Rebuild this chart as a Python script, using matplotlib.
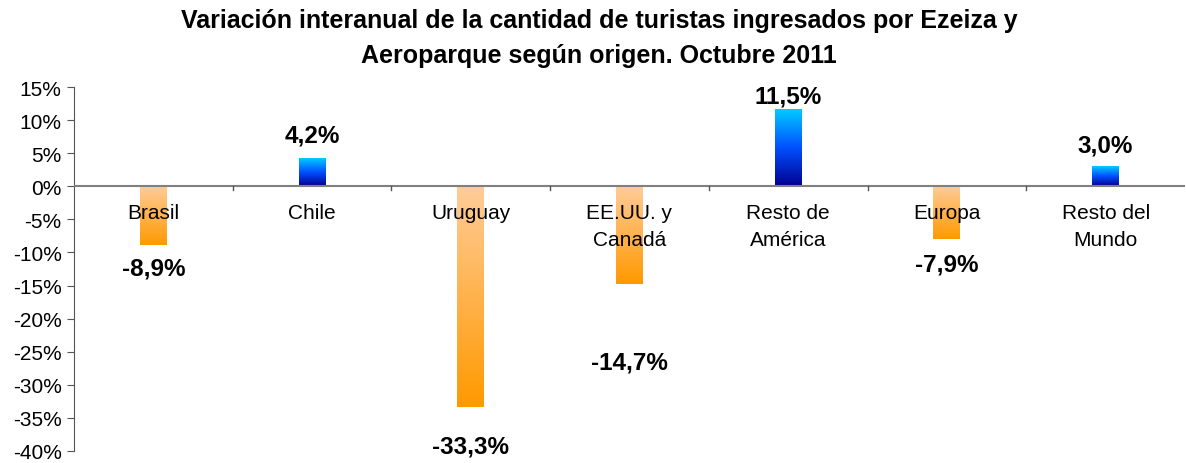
import numpy as np
import matplotlib
matplotlib.use("Agg")
import matplotlib.pyplot as plt
from matplotlib.colors import LinearSegmentedColormap

plt.rcParams['font.family'] = ['Liberation Sans', 'DejaVu Sans']

categories = ["Brasil", "Chile", "Uruguay", "EE.UU. y\nCanadá", "Resto de\nAmérica", "Europa", "Resto del\nMundo"]
values = [-8.9, 4.2, -33.3, -14.7, 11.5, -7.9, 3.0]
value_labels = ["-8,9%", "4,2%", "-33,3%", "-14,7%", "11,5%", "-7,9%", "3,0%"]
label_y = [-12.4, 7.8, -39.2, -26.5, 13.6, -11.8, 6.3]
yticks = [15, 10, 5, 0, -5, -10, -15, -20, -25, -30, -35, -40]

title = "Variación interanual de la cantidad de turistas ingresados por Ezeiza y\nAeroparque según origen. Octubre 2011"

fig = plt.figure(figsize=(11.86, 4.64), dpi=100)
ax = fig.add_axes([74/1186, 1 - 452/464, (1185-74)/1186, (452-88)/464])

x = np.arange(len(categories)) + 0.5
width = 0.17

blue = LinearSegmentedColormap.from_list("b", ["#000090", "#0050FF", "#00CCFF"])
orange = LinearSegmentedColormap.from_list("o", ["#FF9900", "#FFCC99"])

bars = ax.bar(x, values, width=width, color="none", edgecolor="none", zorder=2)
grad = np.linspace(0, 1, 256).reshape(-1, 1)
for b, v in zip(bars, values):
    x0 = b.get_x()
    x1 = x0 + b.get_width()
    if v >= 0:
        ax.imshow(grad, cmap=blue, aspect="auto", origin="lower",
                  extent=[x0, x1, 0, v], zorder=2)
    else:
        ax.imshow(grad, cmap=orange, aspect="auto", origin="lower",
                  extent=[x0, x1, v, 0], zorder=2)

ax.set_xlim(0, len(categories))
ax.set_ylim(-40, 15)
ax.set_yticks(yticks)
ax.set_yticklabels([f"{t}%" for t in yticks], fontsize=15)
ax.tick_params(axis="y", direction="out", length=5, color="#555555", pad=4)
ax.set_xticks([])

for s in ["top", "right", "bottom"]:
    ax.spines[s].set_visible(False)
ax.spines["left"].set_color("#555555")
ax.axhline(0, color="#808080", lw=1.5, zorder=3)
for i in range(1, len(categories)):
    ax.plot([i, i], [0, -0.6], color="#555555", lw=1, zorder=3)

for xi, c in zip(x, categories):
    ax.text(xi, -2.5, c, ha="center", va="top", fontsize=15, zorder=4, linespacing=1.55)

for xi, ly, lab in zip(x, label_y, value_labels):
    ax.text(xi, ly, lab, ha="center", va="center", fontsize=17.5, fontweight="bold", zorder=4)

fig.text(0.505, 0.98, title, ha="center", va="top", fontsize=18, fontweight="bold", linespacing=1.55)

fig.savefig("out.png", dpi=100)
